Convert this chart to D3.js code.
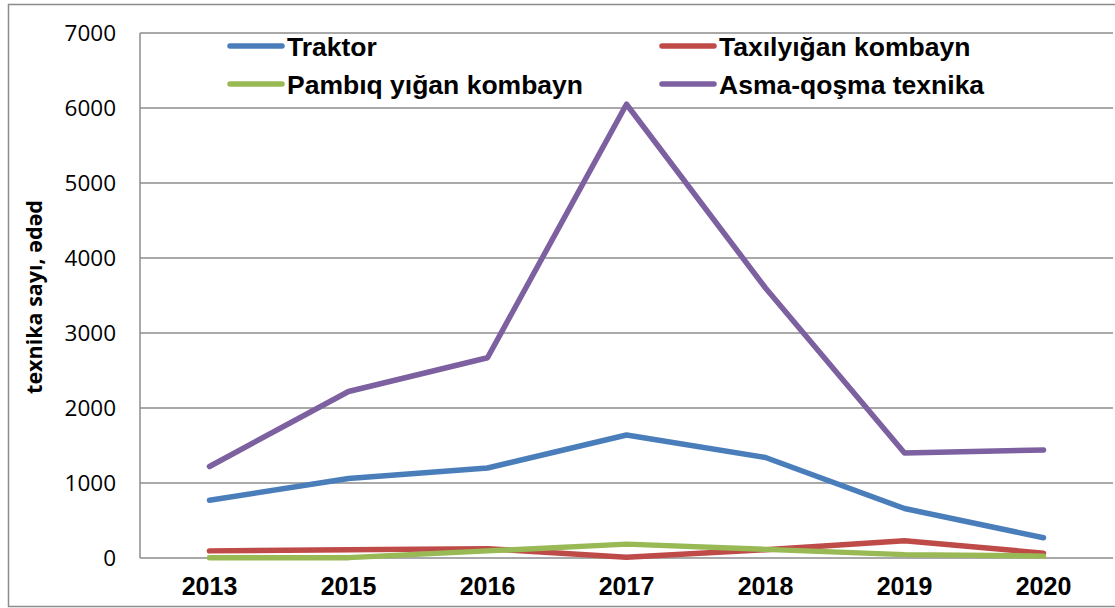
<!DOCTYPE html>
<html>
<head>
<meta charset="utf-8">
<script src="https://cdn.jsdelivr.net/npm/d3@7"></script>
<style>
  body { margin: 0; background: #fff; }
  svg { display: block; }
</style>
</head>
<body>
<div id="chart"></div>
<script>
// data
var years = ["2013", "2015", "2016", "2017", "2018", "2019", "2020"];
var traktor = [770, 1060, 1200, 1640, 1340, 660, 270];
var taxilyigan = [95, 110, 125, 10, 110, 230, 65];
var pambiq = [5, 5, 95, 185, 115, 45, 25];
var asma = [1220, 2220, 2670, 6050, 3600, 1400, 1440];
var yTicks = [0, 1000, 2000, 3000, 4000, 5000, 6000, 7000];

var seriesNames = ["Traktor", "Taxılyığan kombayn", "Pambıq yığan kombayn", "Asma-qoşma texnika"];
var seriesValues = [traktor, taxilyigan, pambiq, asma];
var colors = ["#4a7ebb", "#be4b48", "#98b954", "#7d60a0"];

function init(){
  var W = 1115, H = 608;
  var left = 140, right = 1113, top = 33, bottom = 558;

  var svg = d3.select("#chart")
    .append("svg")
      .attr("width", W)
      .attr("height", H);

  // outer chart border
  svg.append("rect")
    .attr("x", 8.5).attr("y", 4.5)
    .attr("width", W + 20).attr("height", 602)
    .attr("fill", "none")
    .attr("stroke", "#8c8c8c")
    .attr("stroke-width", 1.5);

  var x = d3.scalePoint()
    .domain(years)
    .range([left, right])
    .padding(0.5);

  var y = d3.scaleLinear()
    .domain([0, 7000])
    .range([bottom, top]);

  // gridlines
  svg.append("g")
    .selectAll("line")
    .data(yTicks)
    .enter()
    .append("line")
      .attr("x1", left).attr("x2", right)
      .attr("y1", function(d){ return y(d); })
      .attr("y2", function(d){ return y(d); })
      .attr("stroke", "#8c8c8c")
      .attr("stroke-width", 1.5);

  // left axis line
  svg.append("line")
    .attr("x1", left).attr("x2", left)
    .attr("y1", top).attr("y2", bottom)
    .attr("stroke", "#8c8c8c")
    .attr("stroke-width", 1.5);

  // y tick labels
  svg.append("g")
    .selectAll("text")
    .data(yTicks)
    .enter()
    .append("text")
      .attr("x", 116)
      .attr("y", function(d){ return y(d); })
      .attr("dy", "0.35em")
      .attr("text-anchor", "end")
      .style("font-family", "'Open Sans', sans-serif")
      .style("font-size", "22.5px")
      .style("fill", "#000")
      .text(function(d){ return d; });

  // x tick labels
  svg.append("g")
    .selectAll("text")
    .data(years)
    .enter()
    .append("text")
      .attr("x", function(d){ return x(d); })
      .attr("y", 595)
      .attr("text-anchor", "middle")
      .style("font-family", "'Liberation Sans', Arial, sans-serif")
      .style("font-weight", "bold")
      .style("font-size", "25px")
      .text(function(d){ return d; });

  // y axis title
  svg.append("text")
    .attr("transform", "translate(42,297) rotate(-90)")
    .attr("text-anchor", "middle")
    .style("font-family", "'Open Sans', sans-serif")
    .style("font-weight", "bold")
    .style("font-size", "21.5px")
    .text("texnika sayı, ədəd");

  // lines
  var line = d3.line()
    .x(function(d, i){ return x(years[i]); })
    .y(function(d){ return y(d); });

  svg.append("g")
    .selectAll("path")
    .data(seriesValues)
    .enter()
    .append("path")
      .attr("d", function(d){ return line(d); })
      .attr("fill", "none")
      .attr("stroke", function(d, i){ return colors[i]; })
      .attr("stroke-width", 5.5)
      .attr("stroke-linecap", "round")
      .attr("stroke-linejoin", "round");

  // legend
  var legX = [230, 662];
  var legY = [46, 84];
  var leg = svg.append("g")
    .selectAll("g")
    .data(seriesNames)
    .enter()
    .append("g")
      .attr("transform", function(d, i){
        return "translate(" + legX[i % 2] + "," + legY[Math.floor(i / 2)] + ")";
      });

  leg.append("line")
    .attr("x1", 0).attr("x2", 52)
    .attr("y1", 0).attr("y2", 0)
    .attr("stroke", function(d, i){ return colors[i]; })
    .attr("stroke-width", 5.5)
    .attr("stroke-linecap", "round");

  leg.append("text")
    .attr("x", 57)
    .attr("y", 0)
    .attr("dy", "0.36em")
    .style("font-family", "'Liberation Sans', Arial, sans-serif")
    .style("font-weight", "bold")
    .style("font-size", "26.5px")
    .text(function(d){ return d; });
}
window.onload = init;
</script>
</body>
</html>
